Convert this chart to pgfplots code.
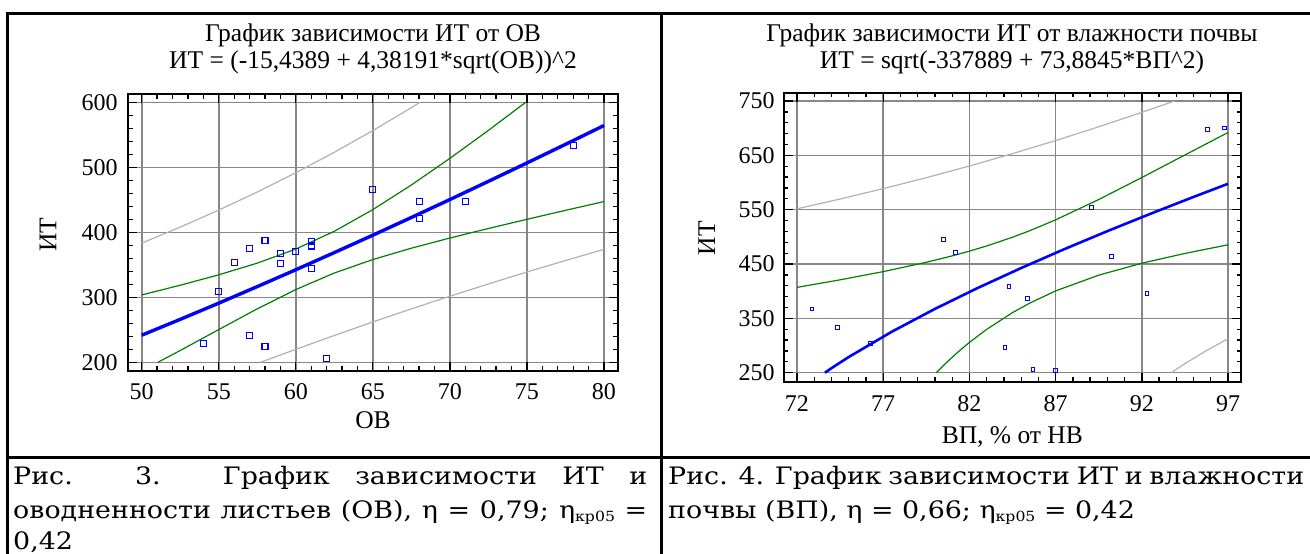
\documentclass[border=0pt]{standalone}
\usepackage{fontspec}
\setmainfont{Liberation Serif}
\newfontfamily\capfont[FakeStretch=1.12]{DejaVu Serif}
\usepackage{pgfplots}
\pgfplotsset{compat=1.18}

\definecolor{fitblue}{RGB}{0,0,255}
\definecolor{bandgreen}{RGB}{0,128,0}
\definecolor{predgray}{RGB}{178,178,178}
\definecolor{gridgray}{RGB}{135,135,135}

\newcommand{\kr}{\raisebox{-0.3ex}{\fontsize{14}{16}\selectfont кр05}}
\newcommand{\capsize}{\fontsize{24}{28}\selectfont}

\pgfplotsset{
  statstyle/.style={
    scale only axis,
    axis line style={line width=2pt, black},
    tick align=inside,
    xtick pos=both, ytick pos=both,
    major tick length=9pt, minor tick length=4.5pt,
    tick style={black, line width=1.3pt},
    grid=major,
    major grid style={gridgray, line width=1.6pt},
    ticklabel style={font=\fontsize{24}{28}\selectfont},
    /pgf/number format/assume math mode=true,
    label style={font=\fontsize{25.5}{30}\selectfont},
    minor x tick num=4, minor y tick num=4,
  },
}

\begin{document}
\begin{tikzpicture}
\useasboundingbox (0,0) rectangle (1310pt,-554pt);
\fill[white] (0,0) rectangle (1310pt,-554pt);

% table lines
\draw[line width=3pt] (5.5pt,-13.3pt) -- (1310pt,-13.3pt);
\draw[line width=3pt] (7pt,-13.3pt) -- (7pt,-554pt);
\draw[line width=3pt] (661pt,-13.3pt) -- (661pt,-554pt);
\draw[line width=3pt] (7pt,-457pt) -- (1310pt,-457pt);

% titles
\node[anchor=base, inner sep=0] at (373pt,-41pt) {\fontsize{25.5}{30}\selectfont График зависимости ИТ от ОВ};
\node[anchor=base, inner sep=0] at (373pt,-68.3pt) {\fontsize{25.5}{30}\selectfont ИТ = (-15,4389 + 4,38191*sqrt(ОВ))\textasciicircum 2};
\node[anchor=base, inner sep=0] at (1012pt,-41pt) {\fontsize{25.5}{30}\selectfont График зависимости ИТ от влажности почвы};
\node[anchor=base, inner sep=0] at (1012pt,-68.3pt) {\fontsize{25.5}{30}\selectfont ИТ = sqrt(-337889 + 73,8845*ВП\textasciicircum 2)};

% left chart
\begin{axis}[statstyle,
  at={(128.3pt,-370.7pt)}, anchor=south west,
  width=489.4pt, height=276.4pt,
  xmin=49.13, xmax=80.89, ymin=187.1, ymax=612.3,
  xtick={50,55,...,80}, ytick={200,300,...,600},
  xticklabel style={anchor=base, yshift=-28.3pt},
  yticklabel style={anchor=east, inner sep=0pt, xshift=-10.5pt},
  xlabel={ОВ}, ylabel={ИТ},
  xlabel style={at={(axis description cs:0.5,-0.2073)}, anchor=base},
  ylabel style={at={(axis description cs:-0.164,0.491)}, anchor=center, rotate=0},
]
% prediction limits
\addplot[predgray, line width=1.2pt] coordinates {
  (50,383.4) (52.5,408.0) (55,434.2) (57.5,462.0) (60,491.6) (62.5,523.1)
  (65,556.5) (67.5,591.7) (68.06,600)};
\addplot[predgray, line width=1.2pt] coordinates {
  (57.7,200) (60,220.0) (62.5,241.3) (65,262.1) (67.5,282.2) (70,301.7)
  (72.5,320.6) (75,338.9) (77.5,356.6) (80,373.8)};
% confidence limits
\addplot[bandgreen, line width=1.2pt] coordinates {
  (50,303.6) (52.5,318.6) (55,334.6) (57.5,352.6) (60,374.2) (62.5,401.6)
  (65,434.9) (67.5,472.8) (70,513.8) (72.5,556.8) (74.92,600)};
\addplot[bandgreen, line width=1.2pt] coordinates {
  (51.05,200) (52.5,218.2) (55,250.4) (57.5,282.3) (60,311.9) (62.5,337.4)
  (65,358.1) (67.5,375.6) (70,391.2) (72.5,405.9) (75,420.0) (77.5,433.8) (80,447.3)};
% fitted model
\addplot[fitblue, line width=3.4pt] coordinates {
  (50,241.7) (52.5,266.1) (55,291.0) (57.5,316.5) (60,342.4) (62.5,368.8)
  (65,395.6) (67.5,422.8) (70,450.4) (72.5,478.4) (75,506.7) (77.5,535.3) (80,564.3)};
% observations
\addplot[only marks, fitblue, mark=square, mark size=3pt, mark options={line width=1.1pt}] coordinates {
  (54,229) (55,309) (56,354) (57,375) (57,241) (58,388) (58,225) (59,367)
  (59,352) (60,370) (61,386) (61,379) (61,344) (62,206) (65,466) (68,447)
  (68,421) (71,447) (78,534)};
\end{axis}

% right chart
\begin{axis}[statstyle,
  at={(783.7pt,-381.7pt)}, anchor=south west,
  width=457.3pt, height=289pt,
  xmin=71.23, xmax=97.75, ymin=233.4, ymax=765.3,
  xtick={72,77,...,97}, ytick={250,350,...,750},
  xticklabel style={anchor=base, yshift=-30pt},
  yticklabel style={anchor=east, inner sep=0pt, xshift=-9pt},
  xlabel={ВП, \% от НВ}, ylabel={ИТ},
  xlabel style={at={(axis description cs:0.5,-0.2121)}, anchor=base},
  ylabel style={at={(axis description cs:-0.168,0.497)}, anchor=center, rotate=0},
]
\addplot[predgray, line width=1.2pt] coordinates {
  (72,551.6) (74.5,569.6) (77,588.7) (79.5,608.9) (82,630.4) (84.5,653.2)
  (87,677.2) (89.5,702.6) (92,729.1) (93.89,750)};
\addplot[predgray, line width=1.2pt] coordinates {
  (93.71,250) (94,256.3) (94.5,266.7) (95.75,290.8) (97,312.5)};
\addplot[bandgreen, line width=1.2pt] coordinates {
  (72,407.0) (74.5,420.9) (77,436.0) (79.5,453.2) (81,465.0) (82,473.7) (83,483.2)
  (84.5,499.3) (85.5,511.3) (87,531.3) (89.5,568.7) (92,609.2) (94.5,650.7) (97,692.1)};
\addplot[bandgreen, line width=1.2pt] coordinates {
  (80.08,250) (80.2,253.8) (80.5,263.4) (81,278.4) (81.5,292.5) (82,305.7) (83,329.7)
  (84.5,360.6) (85.5,378.1) (87,400.5) (89.5,429.5) (92,451.5) (94.5,469.5) (97,485.4)};
\addplot[fitblue, line width=2.6pt] coordinates {
  (73.62,250) (74,258.3) (75,278.8) (77.5,325.4) (80,367.4) (82.5,406.2)
  (85,442.6) (87.5,477.3) (90,510.5) (92.5,542.5) (95,573.5) (97,597.7)};
\addplot[only marks, fitblue, mark=square, mark size=1.9pt, mark options={line width=1pt}] coordinates {
  (72.87,367.2) (74.35,332.8) (76.26,303.4) (80.50,495.4) (81.21,471.5)
  (84.06,296.6) (84.30,408.3) (85.37,386.2) (85.69,255.5) (86.97,254.3)
  (89.10,553.7) (90.26,464.1) (92.30,396.0) (95.79,697.2) (96.78,700.3)};
\end{axis}

% captions
\node[anchor=base west, inner sep=0] at (13pt,-484pt) {\capfont\capsize\makebox[634pt][s]{Рис. 3. График зависимости ИТ и}};
\node[anchor=base west, inner sep=0] at (13pt,-518pt) {\capfont\capsize\makebox[634pt][s]{оводненности листьев (ОВ), η = 0,79; η\kr{} =}};
\node[anchor=base west, inner sep=0] at (13pt,-549pt) {\capfont\capsize 0,42};
\node[anchor=base west, inner sep=0] at (668pt,-484pt) {\capfont\capsize\makebox[636pt][s]{Рис. 4. График зависимости ИТ и влажности}};
\node[anchor=base west, inner sep=0] at (668pt,-518pt) {\capfont\capsize почвы (ВП), η = 0,66; η\kr{} = 0,42};
\end{tikzpicture}
\end{document}
